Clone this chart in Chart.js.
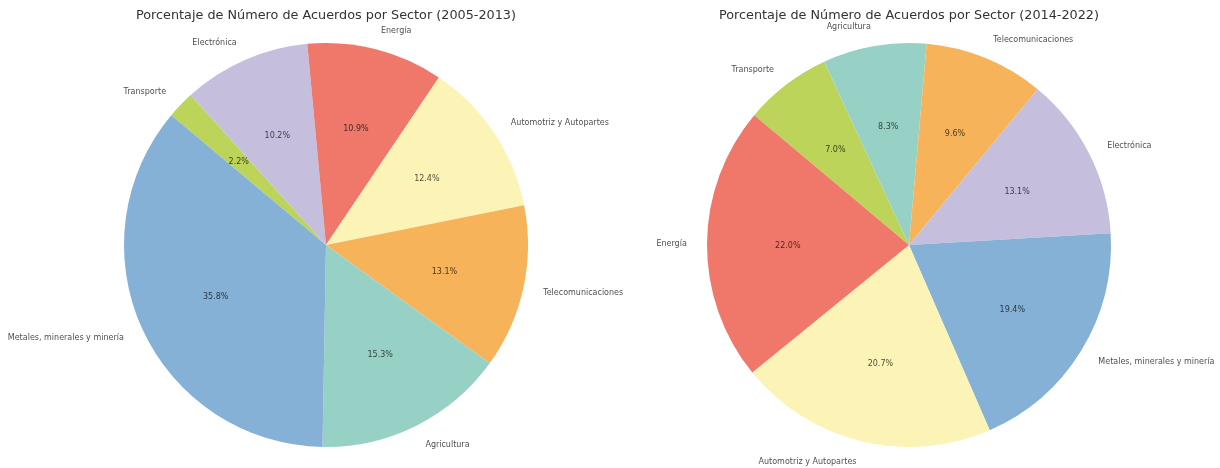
<!DOCTYPE html>
<html>
<head>
<meta charset="utf-8">
<script src="https://cdn.jsdelivr.net/npm/chart.js@4"></script>
<style>
html,body{margin:0;padding:0;background:#fff;}
#wrap{position:relative;width:1220px;height:468px;overflow:hidden;}
canvas{position:absolute;top:0;left:0;}
</style>
</head>
<body>
<div id="wrap">
<canvas id="c1" width="1220" height="468" style="width:1220px;height:468px"></canvas>
<canvas id="c2" width="1220" height="468" style="width:1220px;height:468px"></canvas>
</div>
<script>
// Data (matplotlib order: counter-clockwise from start angle 140°)
const sectors2005 = ['Metales, minerales y minería','Agricultura','Telecomunicaciones','Automotriz y Autopartes','Energía','Electrónica','Transporte'];
const values2005 = [35.8, 15.3, 13.1, 12.4, 10.9, 10.2, 2.2];
const sectors2014 = ['Energía','Automotriz y Autopartes','Metales, minerales y minería','Electrónica','Telecomunicaciones','Agricultura','Transporte'];
const values2014 = [22.0, 20.7, 19.4, 13.1, 9.6, 8.3, 7.0];
const title2005 = 'Porcentaje de Número de Acuerdos por Sector (2005-2013)';
const title2014 = 'Porcentaje de Número de Acuerdos por Sector (2014-2022)';

const sectorColors = {
  'Metales, minerales y minería': '#86b1d6',
  'Agricultura': '#97d1c6',
  'Telecomunicaciones': '#f7b35a',
  'Automotriz y Autopartes': '#fbf4b6',
  'Energía': '#ef786a',
  'Electrónica': '#c5bfdd',
  'Transporte': '#bdd45a'
};

const FONT = "'DejaVu Sans', 'Liberation Sans', sans-serif";

const pieLabels = {
  id: 'pieLabels',
  afterDatasetsDraw(chart) {
    const ctx = chart.ctx;
    const meta = chart.getDatasetMeta(0);
    const ds = chart.data.datasets[0];
    ctx.save();
    ctx.font = '8px ' + FONT;
    ctx.textBaseline = 'middle';
    meta.data.forEach((arc, i) => {
      const p = arc.getProps(['x','y','startAngle','endAngle','outerRadius'], true);
      const mid = (p.startAngle + p.endAngle) / 2;
      const c = Math.cos(mid), s = Math.sin(mid);
      const lx = p.x + 1.1 * p.outerRadius * c;
      const ly = p.y + 1.1 * p.outerRadius * s + 1;
      ctx.fillStyle = 'rgba(0,0,0,0.72)';
      ctx.textAlign = c >= 0 ? 'left' : 'right';
      ctx.fillText(chart.data.labels[i], lx, ly);
      const px = p.x + 0.6 * p.outerRadius * c;
      const py = p.y + 0.6 * p.outerRadius * s + 1.5;
      ctx.fillStyle = 'rgba(0,0,0,0.7)';
      ctx.textAlign = 'center';
      ctx.fillText(ds.data[i].toFixed(1) + '%', px, py);
    });
    ctx.restore();
  }
};

function makePie(id, labels, values, title, padL, padR) {
  // Chart.js draws clockwise; matplotlib counter-clockwise -> reverse order
  const L = labels.slice().reverse();
  const V = values.slice().reverse();
  return new Chart(document.getElementById(id), {
    type: 'pie',
    data: {
      labels: L,
      datasets: [{
        data: V,
        backgroundColor: L.map(l => sectorColors[l]),
        borderWidth: 0,
        hoverOffset: 0,
        offset: 0,
        rotation: -50,
        radius: 202
      }]
    },
    options: {
      responsive: false,
      devicePixelRatio: 1,
      animation: false,
      events: [],
      layout: { padding: { left: padL, right: padR, top: 0, bottom: 21 } },
      plugins: {
        legend: { display: false },
        tooltip: { enabled: false },
        title: {
          display: true,
          text: title,
          color: '#333',
          font: { family: FONT, size: 12.8, weight: 'normal', lineHeight: 1.2 },
          padding: { top: 8, bottom: 19.6 }
        }
      }
    },
    plugins: [pieLabels]
  });
}

makePie('c1', sectors2005, values2005, title2005, 0, 568);
makePie('c2', sectors2014, values2014, title2014, 598, 0);
</script>
</body>
</html>
